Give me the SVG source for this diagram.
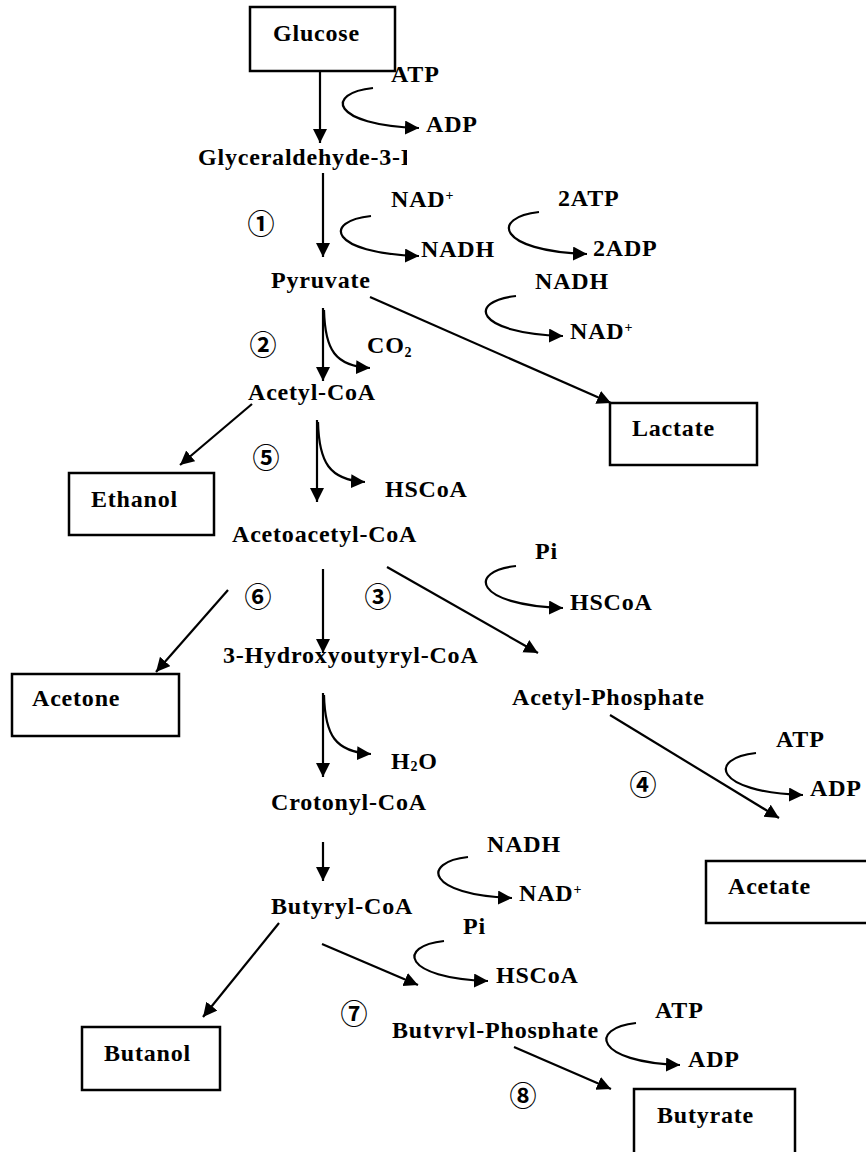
<svg xmlns="http://www.w3.org/2000/svg" width="866" height="1152" viewBox="0 0 866 1152">
<style>
text{font-family:"Liberation Serif","Times New Roman",serif;font-weight:bold;font-size:24px;letter-spacing:0.8px;fill:#000}
text.num{font-family:"Noto Sans CJK JP","Noto Sans CJK SC",sans-serif;font-weight:bold;font-size:27px;letter-spacing:0;text-anchor:middle;dominant-baseline:central}
.box{fill:#fff;stroke:#000;stroke-width:2.5}
.ln{fill:none;stroke:#000;stroke-width:2.2;marker-end:url(#ah)}
.sup{font-size:14px}
</style>
<defs>
<marker id="ah" markerUnits="userSpaceOnUse" markerWidth="16" markerHeight="16" refX="14" refY="7" orient="auto">
<path d="M0,0 L14,7 L0,14 z" fill="#000"/>
</marker>
<clipPath id="cg"><rect x="0" y="140" width="407" height="40"/></clipPath>
<clipPath id="cb"><rect x="380" y="1010" width="280" height="29"/></clipPath>
</defs>
<rect width="866" height="1152" fill="#fff"/>

<g id="connectors">
<path class="ln" d="M320,71 L320,143"/>
<path class="ln" d="M323,173 L323,257"/>
<path class="ln" d="M323,308 L323,381"/>
<path class="ln" d="M370,297 L611,403"/>
<path class="ln" d="M252,404 L180,465"/>
<path class="ln" d="M317,420 L317,502"/>
<path class="ln" d="M323,569 L323,653"/>
<path class="ln" d="M228,590 L156,672"/>
<path class="ln" d="M387,567 L538,653"/>
<path class="ln" d="M323,693 L323,777"/>
<path class="ln" d="M323,842 L323,881"/>
<path class="ln" d="M610,715 L779,818"/>
<path class="ln" d="M279,923 L203,1017"/>
<path class="ln" d="M322,944 L418,985"/>
<path class="ln" d="M514,1047 L611,1089"/>
<path class="ln" d="M324,310 C325,350 335,366 370,368"/>
<path class="ln" d="M318,422 C319,462 329,480 365,482"/>
<path class="ln" d="M324,695 C325,735 335,752 371,754"/>
<path class="ln" d="M373,88 C325,93 330,125 419,128"/>
<path class="ln" d="M371,216 C323,221 328,253 419,256"/>
<path class="ln" d="M539,212 C491,217 496,251 587,254"/>
<path class="ln" d="M516,296 C468,301 473,333 563,336"/>
<path class="ln" d="M516,566 C468,571 473,605 563,608"/>
<path class="ln" d="M756,753 C708,758 713,792 803,795"/>
<path class="ln" d="M468,857 C421,862 426,895 512,898"/>
<path class="ln" d="M444,941 C397,946 402,978 488,981"/>
<path class="ln" d="M636,1023 C589,1028 594,1062 680,1065"/>
</g>

<g id="glucose"><rect class="box" x="250" y="7" width="145" height="64"/><text x="273" y="41">Glucose</text></g>
<g id="lactate"><rect class="box" x="610" y="403" width="147" height="62"/><text x="632" y="436">Lactate</text></g>
<g id="ethanol"><rect class="box" x="69" y="473" width="145" height="62"/><text x="91" y="507">Ethanol</text></g>
<g id="acetone"><rect class="box" x="12" y="674" width="167" height="62"/><text x="32" y="706">Acetone</text></g>
<g id="acetate"><rect class="box" x="706" y="861" width="166" height="62"/><text x="728" y="894">Acetate</text></g>
<g id="butanol"><rect class="box" x="82" y="1027" width="138" height="63"/><text x="104" y="1061">Butanol</text></g>
<g id="butyrate"><rect class="box" x="634" y="1089" width="161" height="66"/><text x="657" y="1123">Butyrate</text></g>

<g id="glyceraldehyde"><text x="198" y="165" clip-path="url(#cg)">Glyceraldehyde-3-P</text></g>
<g id="pyruvate"><text x="271" y="288">Pyruvate</text></g>
<g id="acetylcoa"><text x="248" y="400">Acetyl-CoA</text></g>
<g id="acetoacetylcoa"><text x="232" y="542">Acetoacetyl-CoA</text></g>
<g id="hydroxybutyrylcoa"><text x="223" y="663">3-Hydroxyoutyryl-CoA</text></g>
<g id="acetylphosphate"><text x="512" y="705">Acetyl-Phosphate</text></g>
<g id="crotonylcoa"><text x="271" y="810">Crotonyl-CoA</text></g>
<g id="butyrylcoa"><text x="271" y="914">Butyryl-CoA</text></g>
<g id="butyrylphosphate"><text x="392" y="1038" clip-path="url(#cb)">Butyryl-Phosphate</text></g>

<g id="cofactors">
<text x="391" y="82">ATP</text>
<text x="426" y="132">ADP</text>
<text x="391" y="207">NAD<tspan class="sup" dy="-7">+</tspan></text>
<text x="421" y="257">NADH</text>
<text x="558" y="206">2ATP</text>
<text x="593" y="256">2ADP</text>
<text x="535" y="289">NADH</text>
<text x="570" y="339">NAD<tspan class="sup" dy="-7">+</tspan></text>
<text x="367" y="353">CO<tspan class="sup" dy="4">2</tspan></text>
<text x="385" y="497">HSCoA</text>
<text x="535" y="559">Pi</text>
<text x="570" y="610">HSCoA</text>
<text x="776" y="747">ATP</text>
<text x="810" y="796">ADP</text>
<text x="391" y="769">H<tspan class="sup" dy="2">2</tspan><tspan dy="-2">O</tspan></text>
<text x="487" y="852">NADH</text>
<text x="519" y="901">NAD<tspan class="sup" dy="-7">+</tspan></text>
<text x="463" y="934">Pi</text>
<text x="496" y="983">HSCoA</text>
<text x="655" y="1018">ATP</text>
<text x="688" y="1067">ADP</text>
</g>

<g id="steps">
<text class="num" x="261" y="222">①</text>
<text class="num" x="263" y="343">②</text>
<text class="num" x="378" y="595">③</text>
<text class="num" x="643" y="783">④</text>
<text class="num" x="266" y="456">⑤</text>
<text class="num" x="258" y="595">⑥</text>
<text class="num" x="354" y="1012">⑦</text>
<text class="num" x="523" y="1094">⑧</text>
</g>
</svg>
